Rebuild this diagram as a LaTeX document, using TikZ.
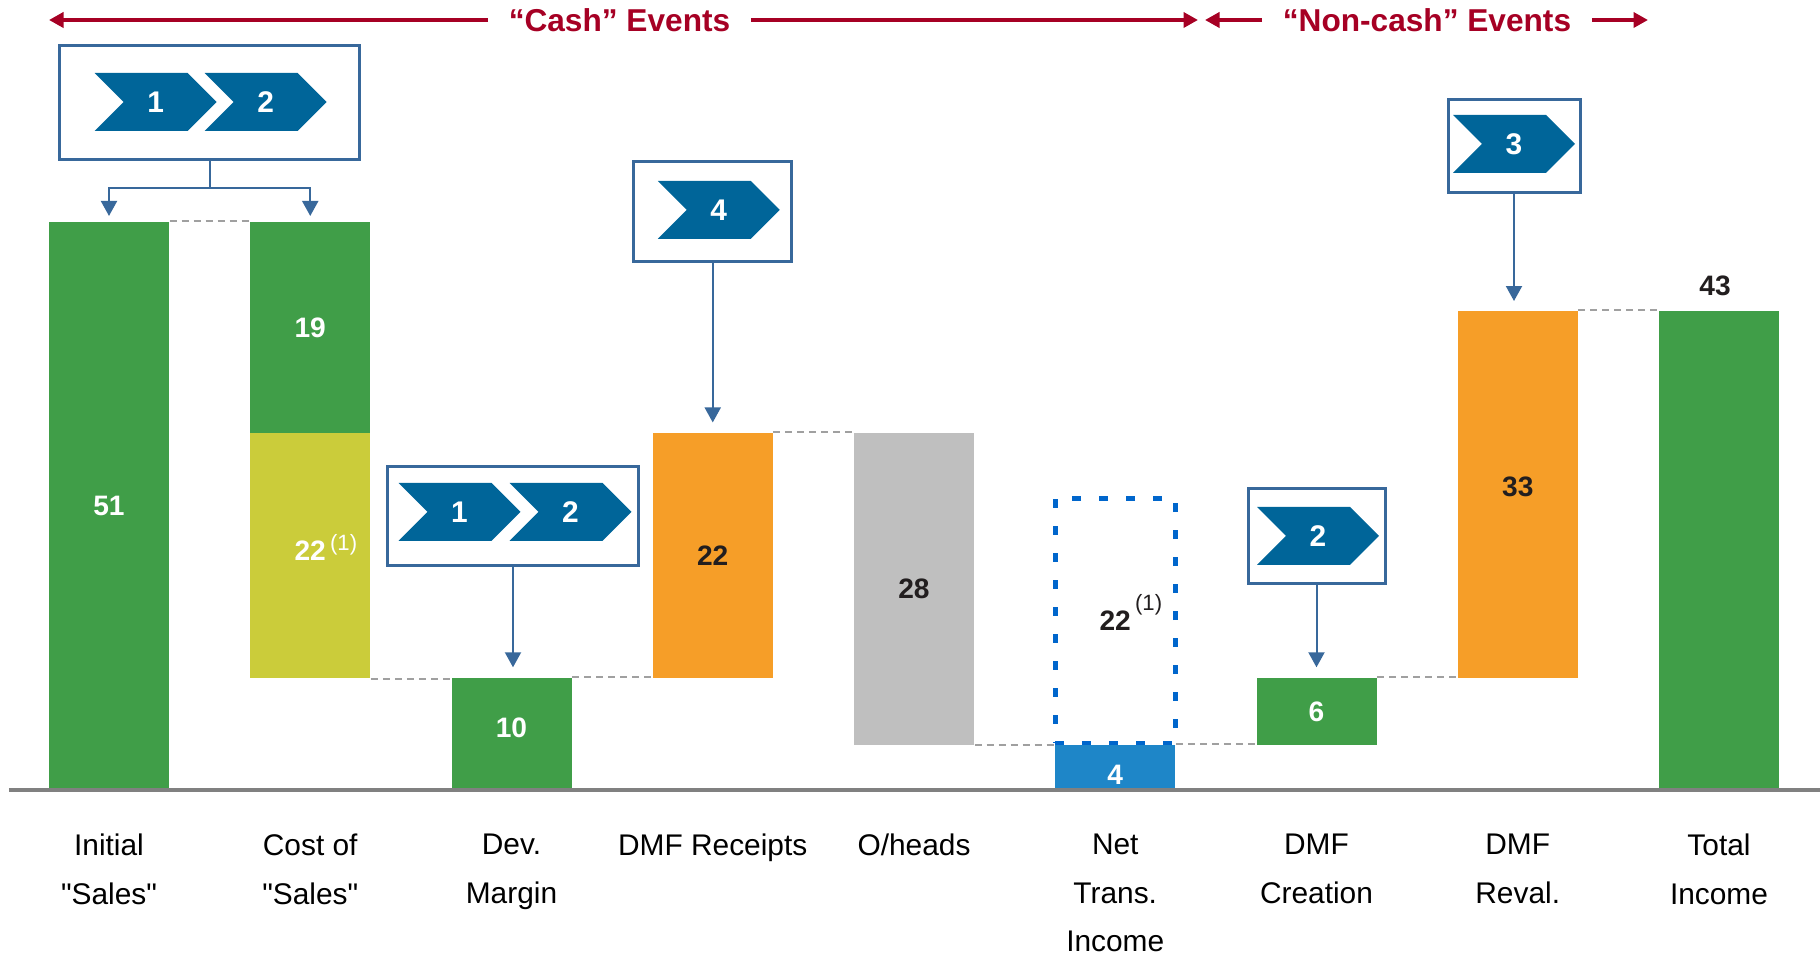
\documentclass[tikz,border=0pt]{standalone}
\usepackage{fontspec}
\setmainfont{Liberation Sans}[Ligatures=TeXOff]
\usetikzlibrary{positioning,shapes.symbols,arrows.meta}
\definecolor{barGreen}{RGB}{64,158,72}
\definecolor{barLime}{RGB}{203,204,58}
\definecolor{barOrange}{RGB}{246,158,40}
\definecolor{barGray}{RGB}{191,191,191}
\definecolor{barBlue}{RGB}{30,134,200}
\definecolor{dotBlue}{RGB}{0,102,204}
\definecolor{chevBlue}{RGB}{0,101,153}
\definecolor{frameBlue}{RGB}{56,104,155}
\definecolor{eventRed}{RGB}{166,0,36}
\definecolor{axisGray}{RGB}{128,128,128}
\definecolor{linkGray}{RGB}{160,160,160}
\definecolor{numBlack}{RGB}{34,30,31}
\newcommand{\fnote}{\rlap{\smash{\kern1.2pt\raisebox{5.6pt}{\fontsize{6.3}{7}\selectfont\mdseries(1)}}}}
\begin{document}
\begin{tikzpicture}[
  barbox/.style={inner sep=0, minimum width=1.2cm, anchor=south, text=white, font=\fontsize{8}{9}\selectfont\bfseries},
  chevron/.style={signal, signal to=east, signal from=west, fill=chevBlue, text=white, inner sep=0, minimum width=1.22cm, minimum height=0.58cm, font=\fontsize{8.5}{9}\selectfont\bfseries},
  evbox/.style={draw=frameBlue, line width=0.03cm, inner sep=0},
  stem/.style={draw=frameBlue, line width=0.02cm},
  flow/.style={stem, -{Triangle[width=0.16cm,length=0.15cm]}, shorten >=0.1cm},
  gaplink/.style={draw=linkGray, line width=0.02cm, dash pattern=on 0.07cm off 0.05cm},
  header/.style={text=eventRed, font=\fontsize{9}{10}\selectfont\bfseries, inner ysep=0, inner xsep=0.2cm},
  headline/.style={draw=eventRed, line width=0.04cm, -{Triangle[width=0.15cm,length=0.145cm]}},
  catlabel/.style={anchor=north, align=center, inner sep=0, font=\fontsize{8.5}{13.9}\selectfont}
]
\useasboundingbox (0,0) rectangle (18.2,9.58);
\pgfmathsetmacro{\u}{0.1113}
\pgfmathsetmacro{\base}{1.68}
%
% bars
\node[barbox, fill=barGreen, minimum height=51*\u cm] (b1) at (1.09,\base) {51};
\node[barbox, fill=barGreen, minimum height=19*\u cm] (b2a) at (3.1025,{\base+32*\u}) {19};
\node[barbox, fill=barLime, minimum height=22*\u cm] (b2b) at (3.1025,{\base+10*\u}) {\raisebox{0.1cm}{22}\fnote};
\node[barbox, fill=barGreen, minimum height=10*\u cm] (b3) at (5.115,\base) {\raisebox{0.12cm}{10}};
\node[barbox, fill=barOrange, text=numBlack, minimum height=22*\u cm] (b4) at (7.1275,{\base+10*\u}) {22};
\node[barbox, fill=barGray, text=numBlack, minimum height=28*\u cm] (b5) at (9.14,{\base+4*\u}) {28};
\node[barbox, fill=barBlue, minimum height=4*\u cm] (b6) at (11.1525,\base) {\raisebox{-0.07cm}[0.2cm][0cm]{4}};
\node[barbox, draw=dotBlue, line width=0.047cm, dash pattern=on 0.09cm off 0.18cm, text=numBlack, minimum height=22*\u cm] (nti) at (11.1525,{\base+4*\u}) {22\fnote};
\node[barbox, fill=barGreen, minimum height=6*\u cm] (b7) at (13.165,{\base+4*\u}) {6};
\node[barbox, fill=barOrange, text=numBlack, minimum height=33*\u cm] (b8) at (15.1775,{\base+10*\u}) {\raisebox{0.16cm}{33}};
\node[barbox, fill=barGreen, minimum height=43*\u cm] (b9) at (17.19,\base) {};
\node[barbox, anchor=center, text=numBlack, above=0.13cm of b9, xshift=-0.04cm] (tot) {43};
%
% steps between bars
\draw[gaplink] (b1.north east) -- (b1.north east -| b2a.west);
\draw[gaplink] (b2b.south east) -- (b2b.south east -| b3.west);
\draw[gaplink] (b3.north east) -- (b3.north east -| b4.west);
\draw[gaplink] (b4.north east) -- (b4.north east -| b5.west);
\draw[gaplink] (b5.south east) -- (b5.south east -| b6.west);
\draw[gaplink] (b6.north east) -- (b6.north east -| b7.west);
\draw[gaplink] (b7.north east) -- (b7.north east -| b8.west);
\draw[gaplink] (b8.north east) -- (b8.north east -| b9.west);
%
% axis
\draw[axisGray, line width=0.035cm] (0.09,\base) -- (18.2,\base);
%
% event boxes
\node[evbox, minimum width=3.0cm, minimum height=1.14cm] (boxA) at (2.096,8.55) {};
\node[chevron] (a1) at ([shift={(-0.54,0.01)}]boxA) {1};
\node[chevron] (a2) at ([shift={(0.56,0.01)}]boxA) {2};
\node[evbox, minimum width=1.58cm, minimum height=1.0cm] (boxB) at (7.1275,7.46) {};
\node[chevron] (bb) at ([shift={(0.06,0.02)}]boxB) {4};
\node[evbox, minimum width=2.51cm, minimum height=0.99cm] (boxC) at (5.13,4.42) {};
\node[chevron] (c1) at ([shift={(-0.535,0.04)}]boxC) {1};
\node[chevron] (c2) at ([shift={(0.575,0.04)}]boxC) {2};
\node[evbox, minimum width=1.37cm, minimum height=0.95cm] (boxD) at (13.165,4.22) {};
\node[chevron] (dd) at ([shift={(0.015,0)}]boxD) {2};
\node[evbox, minimum width=1.32cm, minimum height=0.93cm] (boxE) at (15.14,8.12) {};
\node[chevron] (ee) at ([shift={(0,0.02)}]boxE) {3};
%
\draw[stem] (boxA.south) -- ++(0,-0.27) coordinate (fork);
\draw[flow, shorten >=0.05cm] (fork) -| (b1.north);
\draw[flow, shorten >=0.05cm] (fork) -| (b2a.north);
\draw[flow] (boxB.south) -- (b4.north);
\draw[flow] (boxC.south) -- (boxC.south |- b3.north);
\draw[flow] (boxD.south) -- (b7.north);
\draw[flow, shorten >=0.09cm] (boxE.south) -- (boxE.south |- b8.north);
%
% cash / non-cash
\node[header] (cash) at (6.195,9.38) {“Cash” Events};
\node[header] (noncash) at (14.27,9.38) {“Non-cash” Events};
\coordinate (cashL) at (0.49,9.38);
\coordinate (cashR) at (11.98,9.38);
\coordinate (ncL) at (12.05,9.38);
\coordinate (ncR) at (16.48,9.38);
\draw[headline] (cash.west) -- (cashL);
\draw[headline] (cash.east) -- (cashR);
\draw[headline] (noncash.west) -- (ncL);
\draw[headline] (noncash.east) -- (ncR);
%
% categories
\foreach \x/\t [count=\i] in {1.09/{Initial\\"Sales"}, 3.1025/{Cost of\\"Sales"}, 5.115/{Dev.\\Margin},
  7.1275/{DMF Receipts}, 9.14/{O/heads}, 11.1525/{Net\\Trans.\\Income}, 13.165/{DMF\\Creation},
  15.1775/{DMF\\Reval.}, 17.19/{Total\\Income}}
  \node[catlabel] (lab\i) at (\x,1.25) {\t};
\end{tikzpicture}
\end{document}
